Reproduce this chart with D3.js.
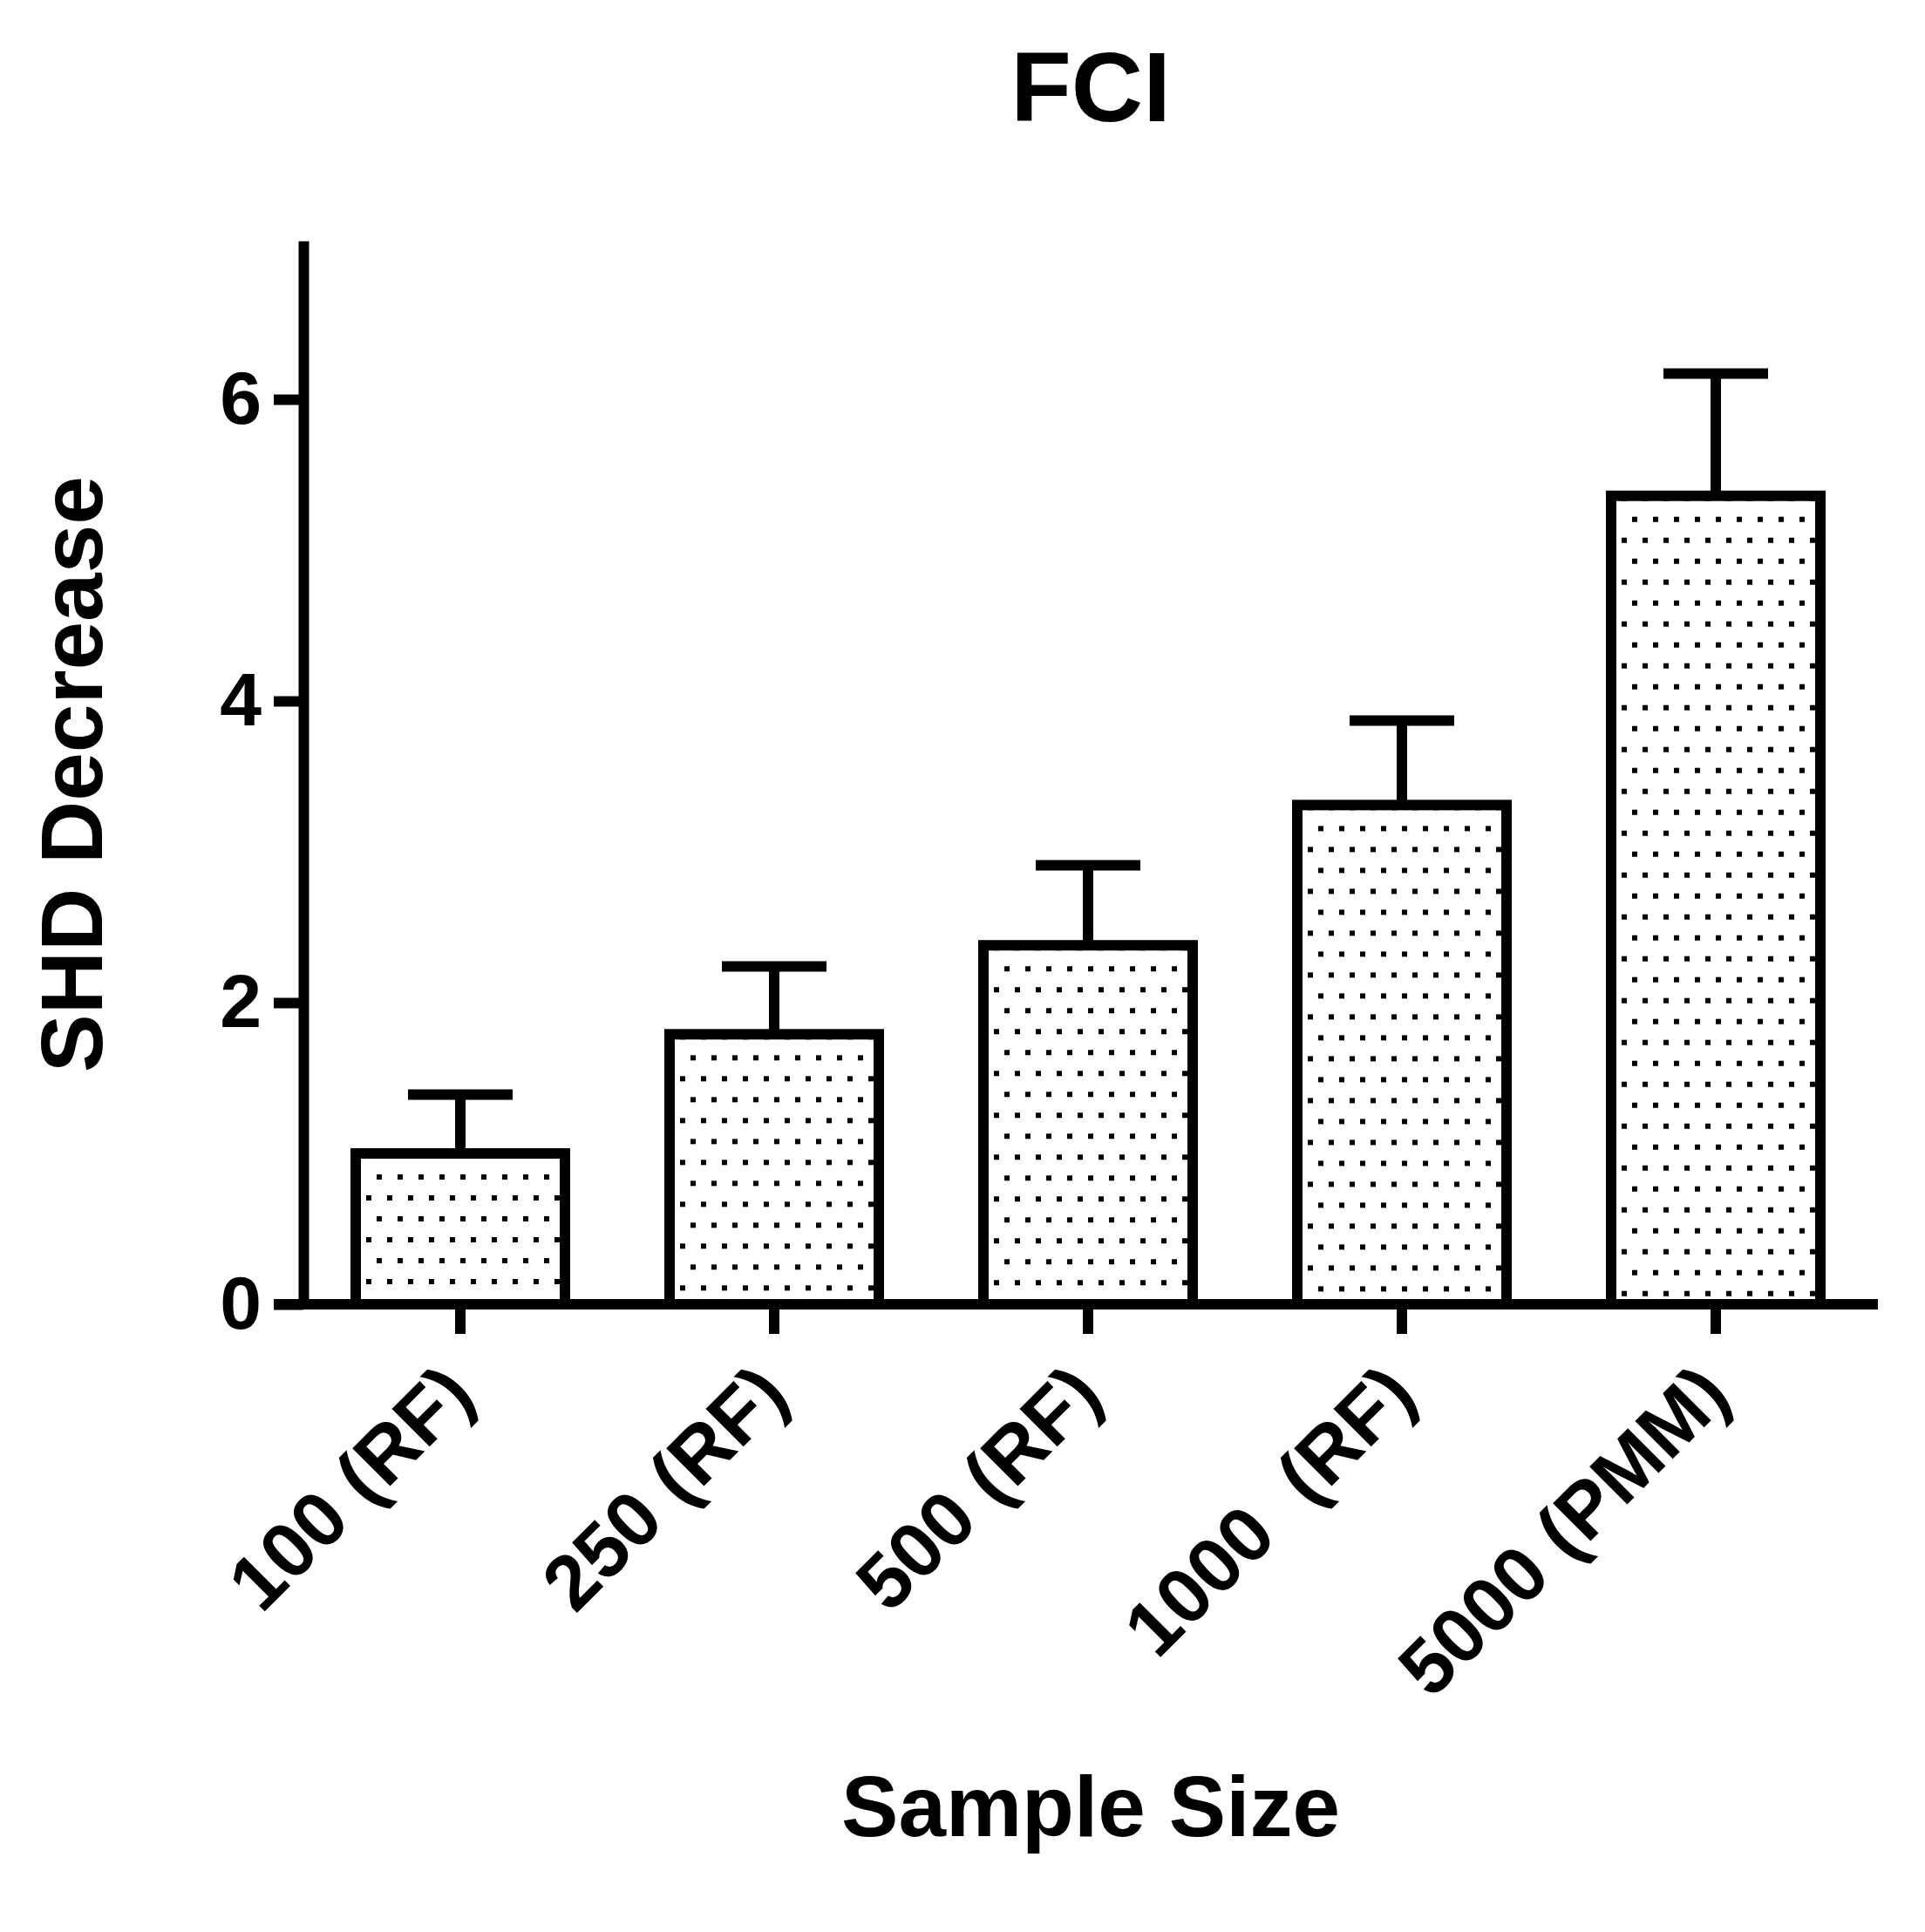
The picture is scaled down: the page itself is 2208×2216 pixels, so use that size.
<!DOCTYPE html>
<html>
<head>
<meta charset="utf-8">
<script src="https://d3js.org/d3.v7.min.js"></script>
<style>
body { margin: 0; background: #fff; }
text { font-family: Arial, "Liberation Sans", sans-serif; font-weight: bold; fill: #000; }
</style>
</head>
<body>
<svg width="2208" height="2216"></svg>
<script>
// data
const categories = ["100 (RF)", "250 (RF)", "500 (RF)", "1000  (RF)", "5000 (PMM)"]
const means = [1.0, 1.79, 2.38, 3.31, 5.36]
const errors = [0.39, 0.45, 0.53, 0.56, 0.81]   // upper error (SEM)
const yTicks = [0, 2, 4, 6]

const svg = d3.select("svg")
const lw = 12

let x = d3.scaleBand()
    .domain(categories)
    .range([348, 2148])
    .paddingInner(1 / 3)
    .paddingOuter(1 / 6)

let y = d3.scaleLinear()
    .domain([0, 7.05])
    .range([1496, 1496 - 7.05 * 173])

// one dot pattern per bar, anchored at the bar's top-left corner
let defs = svg.append("defs")
categories.forEach((c, i) => {
    let p = defs.append("pattern")
        .attr("id", "dots" + i)
        .attr("patternUnits", "userSpaceOnUse")
        .attr("x", x(c))
        .attr("y", y(means[i]))
        .attr("width", 24)
        .attr("height", 48)
    p.append("rect").attr("x", 0).attr("y", 24).attr("width", 6).attr("height", 6).attr("fill", "#000")
    p.append("rect").attr("x", 12).attr("y", 0).attr("width", 6).attr("height", 6).attr("fill", "#000")
})

// error bars (upper only)
let eb = svg.append("g").attr("stroke", "#000").attr("stroke-width", lw)
eb.selectAll("line.v")
    .data(categories)
    .enter().append("line")
    .attr("class", "v")
    .attr("x1", d => x(d) + x.bandwidth() / 2)
    .attr("x2", d => x(d) + x.bandwidth() / 2)
    .attr("y1", (d, i) => y(means[i]))
    .attr("y2", (d, i) => y(means[i] + errors[i]))
eb.selectAll("line.cap")
    .data(categories)
    .enter().append("line")
    .attr("class", "cap")
    .attr("x1", d => x(d) + x.bandwidth() / 4)
    .attr("x2", d => x(d) + x.bandwidth() * 3 / 4)
    .attr("y1", (d, i) => y(means[i] + errors[i]))
    .attr("y2", (d, i) => y(means[i] + errors[i]))

// bars
svg.append("g").selectAll("rect")
    .data(categories)
    .enter().append("rect")
    .attr("x", d => x(d))
    .attr("y", (d, i) => y(means[i]))
    .attr("width", x.bandwidth())
    .attr("height", (d, i) => y(0) - y(means[i]))
    .attr("fill", (d, i) => "url(#dots" + i + ")")
    .attr("stroke", "#000")
    .attr("stroke-width", lw)

// y axis
let yAxis = svg.append("g")
    .attr("transform", "translate(348,0)")
    .call(d3.axisLeft(y).tickValues(yTicks).tickFormat(d3.format("d"))
        .tickSize(34).tickSizeOuter(0).tickPadding(14))
yAxis.select(".domain").attr("stroke-width", lw)
yAxis.selectAll(".tick line").attr("stroke-width", lw)
yAxis.selectAll(".tick text")
    .attr("font-size", 86)
    .attr("font-family", "Arial, 'Liberation Sans', sans-serif")
    .attr("font-weight", "bold")

// x axis
let xAxis = svg.append("g")
    .attr("transform", "translate(0,1496)")
    .call(d3.axisBottom(x).tickSize(34).tickSizeOuter(0))
xAxis.select(".domain").remove()
xAxis.append("line")
    .attr("x1", 314).attr("x2", 2154)
    .attr("stroke", "#000").attr("stroke-width", lw)
xAxis.selectAll(".tick line").attr("stroke-width", lw)
xAxis.selectAll(".tick text")
    .attr("font-size", 89)
    .attr("font-family", "Arial, 'Liberation Sans', sans-serif")
    .attr("font-weight", "bold")
    .attr("x", 0).attr("y", 0).attr("dy", 0)
    .attr("text-anchor", "end")
    .style("white-space", "pre")
    .attr("transform", "translate(20,108) rotate(-45)")

// titles
svg.append("text")
    .attr("x", 1251).attr("y", 139)
    .attr("text-anchor", "middle")
    .attr("font-size", 114)
    .text("FCI")

svg.append("text")
    .attr("x", 1251).attr("y", 2106)
    .attr("text-anchor", "middle")
    .attr("font-size", 98)
    .text("Sample Size")

svg.append("text")
    .attr("transform", "translate(117,888) rotate(-90)")
    .attr("text-anchor", "middle")
    .attr("font-size", 100)
    .text("SHD Decrease")
</script>
</body>
</html>
